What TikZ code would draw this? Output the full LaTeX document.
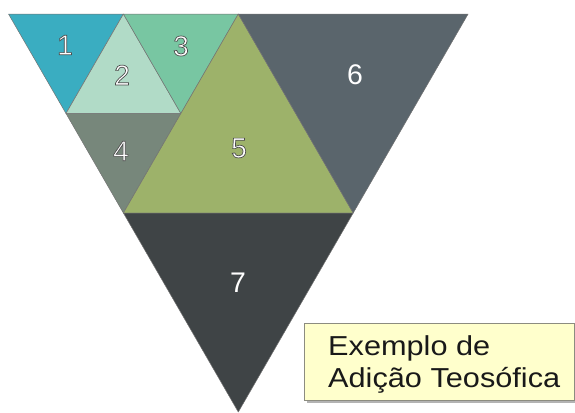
\documentclass[tikz,border=0pt]{standalone}
\usepackage{fontspec}
\setmainfont{Liberation Sans}
\usetikzlibrary{shadows}

\definecolor{triA}{HTML}{3AADC1}
\definecolor{triB}{HTML}{B1DBC7}
\definecolor{triC}{HTML}{78C6A2}
\definecolor{triD}{HTML}{77877B}
\definecolor{triE}{HTML}{9DB26A}
\definecolor{triF}{HTML}{5A656C}
\definecolor{triG}{HTML}{3F4446}
\definecolor{capfill}{HTML}{FFFFCC}
\definecolor{capline}{HTML}{8C8C80}

\tikzset{
  piece/.style={draw=black!55, line width=0.5bp, line join=round},
  num/.style={text=white, inner sep=0pt, font=\fontsize{28.5}{30}\selectfont},
  capbox/.style={draw=capline, fill=capfill, line width=0.8bp,
    drop shadow={shadow xshift=2.5bp, shadow yshift=-3bp, fill=black!50, opacity=0.6}},
  captext/.style={align=left, inner sep=0pt, text=black!90,
    font=\addfontfeature{FakeStretch=1.12}\fontsize{27.5}{32}\selectfont}
}

% dark rim round the small numbers (fill + stroke text mode)
\newcommand\rimnum[1]{\special{pdf:literal direct 2 Tr 0.7 w 0.3 0.3 0.3 RG}#1\special{pdf:literal direct 0 Tr}}

\begin{document}
\begin{tikzpicture}[x=1bp, y=-1bp]
  \useasboundingbox (0,0) rectangle (575,412);

  \coordinate (t0) at (8.5,14);
  \coordinate (t1) at (123.4,14);
  \coordinate (t2) at (238.3,14);
  \coordinate (t4) at (468.1,14);
  \coordinate (m1) at (66,113.5);
  \coordinate (m2) at (180.9,113.5);
  \coordinate (b1) at (123.4,213);
  \coordinate (b3) at (353.2,213);
  \coordinate (p) at (238.3,412);

  \filldraw[piece, fill=triA] (t0) -- (t1) -- (m1) -- cycle;
  \filldraw[piece, fill=triB] (t1) -- (m2) -- (m1) -- cycle;
  \filldraw[piece, fill=triC] (t1) -- (t2) -- (m2) -- cycle;
  \filldraw[piece, fill=triD] (m1) -- (m2) -- (b1) -- cycle;
  \filldraw[piece, fill=triE] (t2) -- (b3) -- (b1) -- cycle;
  \filldraw[piece, fill=triF] (t2) -- (t4) -- (b3) -- cycle;
  \filldraw[piece, fill=triG] (b1) -- (b3) -- (p) -- cycle;

  \node[num] (n1) at (65,45) {\rimnum{1}};
  \node[num] (n2) at (122,75) {\rimnum{2}};
  \node[num] (n3) at (181,46) {\rimnum{3}};
  \node[num] (n4) at (121,151) {\rimnum{4}};
  \node[num] (n5) at (239,148) {\rimnum{5}};
  \node[num] (n6) at (355,75) {6};
  \node[num] (n7) at (238,283) {7};

  \path[capbox] (304,323) rectangle (574,400);
  \node[captext, anchor=base west] (cap) at (328,387) {Exemplo de\\Adição Teosófica};
\end{tikzpicture}
\end{document}
